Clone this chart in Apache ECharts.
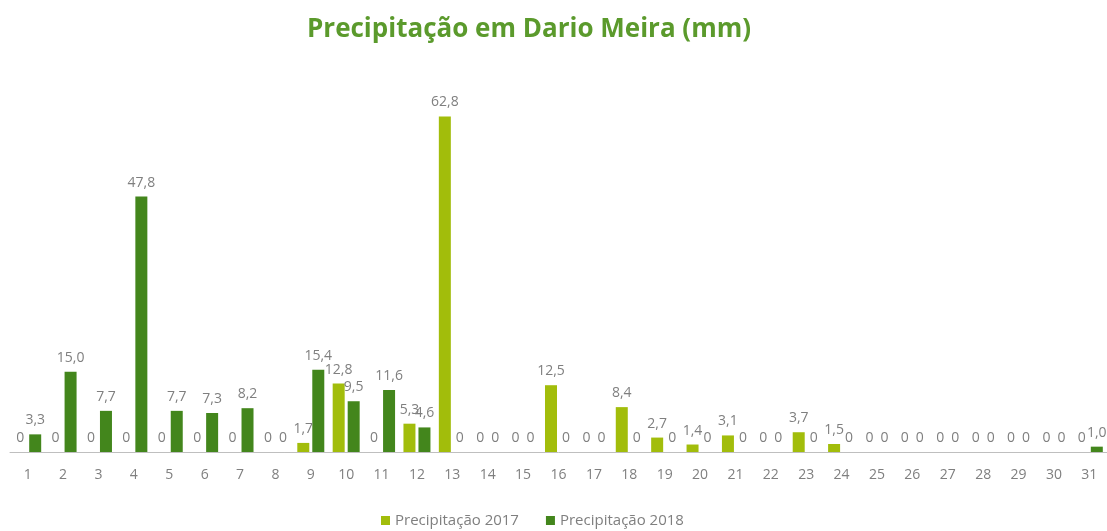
<!DOCTYPE html>
<html>
<head>
<meta charset="utf-8">
<script src="https://cdn.jsdelivr.net/npm/echarts@6/dist/echarts.min.js"></script>
<style>
  html, body { margin: 0; padding: 0; background: #fff; }
  #chart { width: 1107px; height: 531px; }
</style>
</head>
<body>
<div id="chart"></div>
<script>
// dias do mês
const dias = ['1','2','3','4','5','6','7','8','9','10','11','12','13','14','15','16',
  '17','18','19','20','21','22','23','24','25','26','27','28','29','30','31']
// precipitação (mm) por dia
const chuva2017 = [0,0,0,0,0,0,0,0,1.7,12.8,0,5.3,62.8,0,0,12.5,0,8.4,2.7,1.4,3.1,0,3.7,1.5,0,0,0,0,0,0,0]
const chuva2018 = [3.3,15.0,7.7,47.8,7.7,7.3,8.2,0,15.4,9.5,11.6,4.6,0,0,0,0,0,0,0,0,0,0,0,0,0,0,0,0,0,0,1.0]

const fonte = "'Open Sans', 'DejaVu Sans', sans-serif"
// 0 fica "0", o resto com uma casa decimal e vírgula
const formatar = (p) => p.value === 0 ? '0' : p.value.toFixed(1).replace('.', ',')

const chart = echarts.init(document.getElementById('chart'))
chart.setOption({
  animation: false,
  title: {
    text: 'Precipitação em Dario Meira (mm)',
    left: 302,
    top: 12,
    textStyle: { color: '#5b9a2c', fontSize: 26, fontWeight: 'bold', fontFamily: fonte }
  },
  legend: {
    bottom: -2,
    left: 376,
    itemWidth: 9,
    itemHeight: 9,
    itemGap: 27,
    icon: 'rect',
    textStyle: { color: '#7f7f7f', fontSize: 15, fontFamily: fonte }
  },
  grid: { left: 10, right: 0, top: 78, bottom: 79 },
  xAxis: {
    type: 'category',
    data: dias,
    axisTick: { show: false },
    axisLine: { lineStyle: { color: '#bfbfbf', width: 1 } },
    axisLabel: { color: '#7f7f7f', fontSize: 14, fontFamily: fonte, margin: 16 }
  },
  yAxis: {
    type: 'value',
    min: 0,
    max: 70,
    show: false,
    splitLine: { show: false }
  },
  series: [
    {
      name: 'Precipitação 2017',
      type: 'bar',
      data: chuva2017,
      barWidth: 12,
      barGap: '25%',
      itemStyle: { color: '#a2bd0b' },
      label: { show: true, position: 'top', formatter: formatar, color: '#7f7f7f', fontSize: 14, fontFamily: fonte, distance: 7 }
    },
    {
      name: 'Precipitação 2018',
      type: 'bar',
      data: chuva2018,
      barWidth: 12,
      barGap: '25%',
      itemStyle: { color: '#43861c' },
      label: { show: true, position: 'top', formatter: formatar, color: '#7f7f7f', fontSize: 14, fontFamily: fonte, distance: 7 }
    }
  ]
})
</script>
</body>
</html>
